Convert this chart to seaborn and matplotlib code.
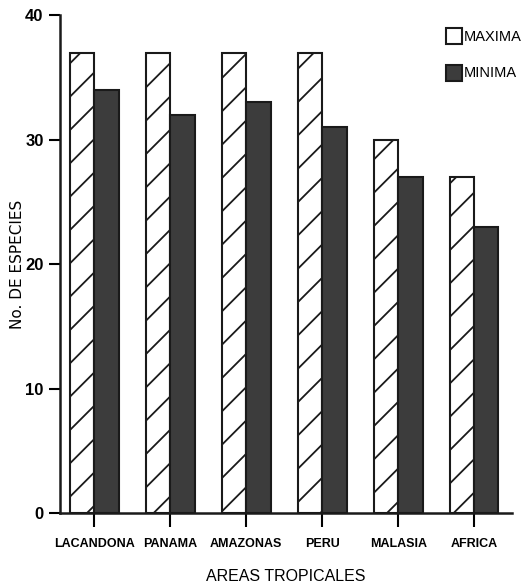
import pandas as pd
import matplotlib.pyplot as plt
import seaborn as sns

# Datos
areas = ['LACANDONA', 'PANAMA', 'AMAZONAS', 'PERU', 'MALASIA', 'AFRICA']
maxima = [37, 37, 37, 37, 30, 27]
minima = [34, 32, 33, 31, 27, 23]

data = pd.DataFrame({
    'area': areas * 2,
    'especies': maxima + minima,
    'serie': ['MAXIMA'] * len(areas) + ['MINIMA'] * len(areas),
})

sns.set_style('ticks', {'text.color': 'black', 'axes.labelcolor': 'black',
                        'xtick.color': 'black', 'ytick.color': 'black'})
plt.rcParams['font.family'] = ['Liberation Sans', 'DejaVu Sans']
plt.rcParams['hatch.linewidth'] = 1.3

fig = plt.figure(figsize=(5.28, 5.85), dpi=100)
ax = fig.add_axes([0.114, 0.123, 0.856, 0.851])

sns.barplot(x='area', y='especies', hue='serie', data=data, ax=ax,
            palette=['white', '#3c3c3c'], edgecolor='#1a1a1a',
            linewidth=1.5, width=0.64, saturation=1)

# rayado de la serie MAXIMA
for bar in ax.containers[0]:
    bar.set_hatch('/')

ax.set_ylim(0, 40)
ax.set_xlim(-0.45, 5.5)
ax.set_yticks([0, 10, 20, 30, 40])
ax.tick_params(axis='y', length=8, width=1.5, labelsize=12, pad=4)
ax.tick_params(axis='x', length=10, width=1.5, labelsize=9, pad=8)
for lab in ax.get_yticklabels() + ax.get_xticklabels():
    lab.set_fontweight('bold')

ax.set_xlabel('AREAS TROPICALES', fontsize=11.5, labelpad=14)
ax.set_ylabel('No. DE ESPECIES', fontsize=11, family=['DejaVu Sans'])
ax.yaxis.set_label_coords(-0.078, 0.5)

sns.despine(ax=ax)
for s in ['left', 'bottom']:
    ax.spines[s].set_linewidth(1.8)
    ax.spines[s].set_color('#1a1a1a')

ax.legend(title=None, frameon=False, loc='upper right',
          bbox_to_anchor=(1.05, 1.0), handlelength=1.1, handleheight=1.3,
          handletextpad=0.15, labelspacing=1.4, fontsize=10.5)

fig.savefig('out.png', dpi=100)
